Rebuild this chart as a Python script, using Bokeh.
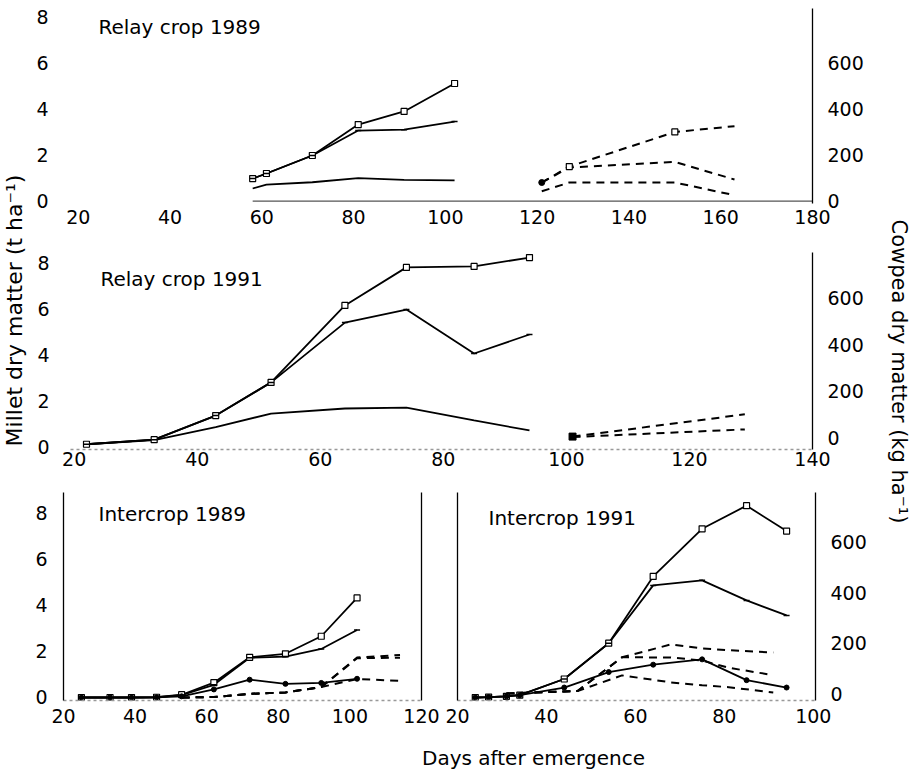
import math
from bokeh.plotting import figure
from bokeh.models import Range1d, LinearAxis, FixedTicker, Label
from bokeh.layouts import row, column
from bokeh.embed import file_html
from bokeh.resources import INLINE

FONT = "DejaVu Sans"
TICK_SIZE = "19px"
TITLE_SIZE = "20px"

# ---------------- data ----------------
millet_ticks = [0, 2, 4, 6, 8]
cowpea_ticks = [0, 200, 400, 600]

# Relay crop 1989
relay89_x_ticks = [20, 40, 60, 80, 100, 120, 140, 160, 180]
relay89_days = [58, 61, 71, 81, 91, 102]
relay89_millet_top = [0.98, 1.20, 1.98, 3.32, 3.89, 5.10]
relay89_millet_mid = [0.98, 1.20, 1.98, 3.06, 3.10, 3.45]
relay89_millet_low = [0.55, 0.72, 0.82, 1.00, 0.92, 0.90]
relay89_cow_days = [121, 127, 150, 163]
relay89_cow_top = [81, 150, 300, 325]
relay89_cow_mid = [81, 146, 170, 94]
relay89_cow_low = [43, 81, 81, 26]
relay89_baseline = [58, 180]

# Relay crop 1991
relay91_x_ticks = [20, 40, 60, 80, 100, 120, 140]
relay91_days = [22, 33, 43, 52, 64, 74, 85, 94]
relay91_millet_top = [0.10, 0.30, 1.35, 2.80, 6.16, 7.82, 7.86, 8.25]
relay91_millet_mid = [0.10, 0.30, 1.35, 2.80, 5.41, 5.98, 4.06, 4.89]
relay91_millet_low = [0.10, 0.28, 0.85, 1.44, 1.66, 1.70, 1.14, 0.70]
relay91_cow_days = [101, 129]
relay91_cow_top = [4, 100]
relay91_cow_low = [2, 35]

# Intercrop 1989
inter89_x_ticks = [20, 40, 60, 80, 100, 120]
inter89_days = [25, 33, 39, 46, 53, 62, 72, 82, 92, 102]
inter89_millet_top = [0, 0, 0, 0.01, 0.12, 0.64, 1.74, 1.89, 2.65, 4.31]
inter89_millet_mid = [0, 0, 0, 0.01, 0.10, 0.55, 1.72, 1.77, 2.10, 2.92]
inter89_millet_low = [0, 0, 0, 0.01, 0.05, 0.35, 0.77, 0.59, 0.63, 0.81]
inter89_cow_days = [53, 62, 72, 82, 92, 102, 114]
inter89_cow_top = [0, 2, 16, 22, 45, 173, 184]
inter89_cow_mid = [0, 2, 16, 22, 45, 170, 172]
inter89_cow_low = [0, 2, 16, 22, 45, 80, 72]

# Intercrop 1991
inter91_x_ticks = [20, 40, 60, 80, 100]
inter91_days = [24, 27, 31, 34, 44, 54, 64, 75, 85, 94]
inter91_millet_top = [0, 0.02, 0.05, 0.10, 0.80, 2.35, 5.24, 7.30, 8.30, 7.20]
inter91_millet_mid = [0, 0.02, 0.05, 0.10, 0.80, 2.35, 4.85, 5.07, 4.20, 3.55]
inter91_millet_low = [0, 0.02, 0.05, 0.10, 0.43, 1.10, 1.42, 1.65, 0.75, 0.43]
inter91_cow_days = [31, 37, 44, 47, 57, 68, 75, 81, 91]
inter91_cow_top = [0, 4, 8, 10, 144, 195, 179, 172, 163]
inter91_cow_mid = [0, 4, 8, 10, 144, 143, 131, 102, 73]
inter91_cow_low = [0, 4, 8, 10, 72, 44, 33, 25, 4]


# ---------------- helpers ----------------
def make_panel(width, height, xr, yr, cow_range, borders):
    l, r, t, b = borders
    p = figure(width=width, height=height,
               x_range=Range1d(*xr), y_range=Range1d(*yr),
               min_border_left=l, min_border_right=r,
               min_border_top=t, min_border_bottom=b,
               x_axis_location=None, y_axis_location=None,
               output_backend="svg", toolbar_location=None)
    p.outline_line_color = None
    p.grid.visible = False
    p.background_fill_color = "white"
    p.border_fill_color = "white"
    p.extra_y_ranges = {"cow": Range1d(*cow_range)}
    return p


def add_axis(p, side, ticks, y_range_name=None, line_color="black",
             line_dash="solid", standoff=5, tick_in=0):
    kw = {}
    if y_range_name:
        kw["y_range_name"] = y_range_name
    ax = LinearAxis(ticker=FixedTicker(ticks=ticks), **kw)
    ax.axis_line_color = line_color
    ax.axis_line_width = 1.3
    ax.axis_line_dash = line_dash
    ax.major_tick_in = tick_in
    ax.major_tick_out = 0
    ax.minor_tick_in = 0
    ax.minor_tick_out = 0
    ax.major_tick_line_color = "black"
    ax.major_label_text_font = FONT
    ax.major_label_text_font_size = TICK_SIZE
    ax.major_label_text_color = "black"
    ax.major_label_standoff = standoff
    p.add_layout(ax, side)
    return ax


def draw_millet(p, days, top, mid, low):
    p.line(days, low, line_color="black", line_width=1.8)
    p.line(days, mid, line_color="black", line_width=1.8)
    p.line(days, top, line_color="black", line_width=1.8)
    p.scatter(days, top, marker="square", size=6, fill_color="white",
              line_color="black", line_width=1.2)
    p.scatter(days, mid, marker="dash", size=6, line_color="black", line_width=1.5)


def draw_cowpea(p, days, *series):
    for s in series:
        p.line(days, s, line_color="black", line_width=2, line_dash="8 6",
               y_range_name="cow")


def panel_title(p, text, x, y):
    p.add_layout(Label(x=x, y=y, x_units="screen", y_units="screen", text=text,
                       text_font=FONT, text_font_size=TITLE_SIZE,
                       text_baseline="middle", text_align="left",
                       text_color="black"))


# ---------------- Relay crop 1989 ----------------
# frame shares its left edge with the panel below (column alignment)
p1 = make_panel(848, 248, (18.3, 180), (-0.1, 8.35), (-10, 835), (38, 68, 8, 45))
add_axis(p1, "below", relay89_x_ticks, line_color=None, standoff=6)
add_axis(p1, "left", millet_ticks, line_color=None, standoff=22)
add_axis(p1, "right", cowpea_ticks, y_range_name="cow", standoff=15)
p1.segment(x0=[relay89_baseline[0]], y0=[0], x1=[relay89_baseline[1]], y1=[0],
           line_color="#555555", line_width=1.3)
draw_millet(p1, relay89_days, relay89_millet_top, relay89_millet_mid, relay89_millet_low)
draw_cowpea(p1, relay89_cow_days, relay89_cow_top, relay89_cow_mid, relay89_cow_low)
p1.scatter(relay89_cow_days[1:3], relay89_cow_top[1:3], marker="square", size=6,
           fill_color="white", line_color="black", line_width=1.2, y_range_name="cow")
p1.scatter(relay89_cow_days[:1], relay89_cow_top[:1], marker="circle", size=6,
           color="black", y_range_name="cow")
panel_title(p1, "Relay crop 1989", 28, 177)

# ---------------- Relay crop 1991 ----------------
r91_lo, r91_hi = -0.13, 8.47
p2 = make_panel(848, 232, (19.4, 140), (r91_lo, r91_hi),
                (98.8 * r91_lo - 38.8, 98.8 * r91_hi - 38.8), (38, 68, 4, 31))
add_axis(p2, "below", relay91_x_ticks, line_color="#999999", line_dash="3 3", standoff=2)
add_axis(p2, "left", millet_ticks, line_color=None, standoff=21)
add_axis(p2, "right", cowpea_ticks, y_range_name="cow", standoff=15)
draw_millet(p2, relay91_days, relay91_millet_top, relay91_millet_mid, relay91_millet_low)
draw_cowpea(p2, relay91_cow_days, relay91_cow_top, relay91_cow_low)
p2.scatter(relay91_cow_days[:1], relay91_cow_top[:1], marker="square", size=7,
           color="black", y_range_name="cow")
panel_title(p2, "Relay crop 1991", 30, 171)

# ---------------- Intercrop 1989 ----------------
p3 = make_panel(408, 252, (20, 120), (-0.13, 8.87), (-13, 887), (31, 19, 12, 32))
add_axis(p3, "below", inter89_x_ticks, line_color="#999999", line_dash="3 3", standoff=8)
add_axis(p3, "left", millet_ticks, standoff=16)
add_axis(p3, "right", [], y_range_name="cow")
draw_millet(p3, inter89_days, inter89_millet_top, inter89_millet_mid, inter89_millet_low)
p3.scatter(inter89_days, inter89_millet_low, marker="circle", size=5, color="black")
draw_cowpea(p3, inter89_cow_days, inter89_cow_top, inter89_cow_mid, inter89_cow_low)
panel_title(p3, "Intercrop 1989", 35, 187)

# ---------------- Intercrop 1991 ----------------
p4 = make_panel(440, 252, (20, 100.5), (-0.13, 8.87), (-27.8, 798.6), (17, 65, 12, 32))
add_axis(p4, "below", inter91_x_ticks, line_color="#999999", line_dash="3 3", standoff=8)
add_axis(p4, "left", [])
add_axis(p4, "right", cowpea_ticks, y_range_name="cow", standoff=15)
draw_millet(p4, inter91_days, inter91_millet_top, inter91_millet_mid, inter91_millet_low)
p4.scatter(inter91_days, inter91_millet_low, marker="circle", size=5, color="black")
draw_cowpea(p4, inter91_cow_days, inter91_cow_top, inter91_cow_mid, inter91_cow_low)
panel_title(p4, "Intercrop 1991", 31, 183)


# ---------------- axis titles ----------------
def title_fig(width, height):
    f = figure(width=width, height=height, x_range=Range1d(0, width),
               y_range=Range1d(0, height), min_border=0,
               x_axis_location=None, y_axis_location=None,
               output_backend="svg", toolbar_location=None)
    f.outline_line_color = None
    f.grid.visible = False
    return f


ft = title_fig(848, 40)
ft.add_layout(Label(x=463, y=15, x_units="screen", y_units="screen",
                    text="Days after emergence", text_font=FONT, text_font_size="20px",
                    text_align="center", text_baseline="middle", text_color="black"))

fl = title_fig(32, 772)
fl.add_layout(Label(x=14, y=462, x_units="screen", y_units="screen",
                    text="Millet dry matter (t ha\u207b\u00b9)", text_font=FONT,
                    text_font_size="22px", angle=math.pi / 2,
                    text_align="center", text_baseline="middle", text_color="black"))

fr = title_fig(32, 772)
fr.add_layout(Label(x=18, y=401, x_units="screen", y_units="screen",
                    text="Cowpea dry matter (kg ha\u207b\u00b9)", text_font=FONT,
                    text_font_size="21px", angle=-math.pi / 2,
                    text_align="center", text_baseline="middle", text_color="black"))

main = column(p1, p2, row(p3, p4, spacing=0), ft, spacing=0)
layout = row(fl, main, fr, spacing=0)

open("out.html", "w").write(file_html(layout, INLINE, title="Dry matter"))
